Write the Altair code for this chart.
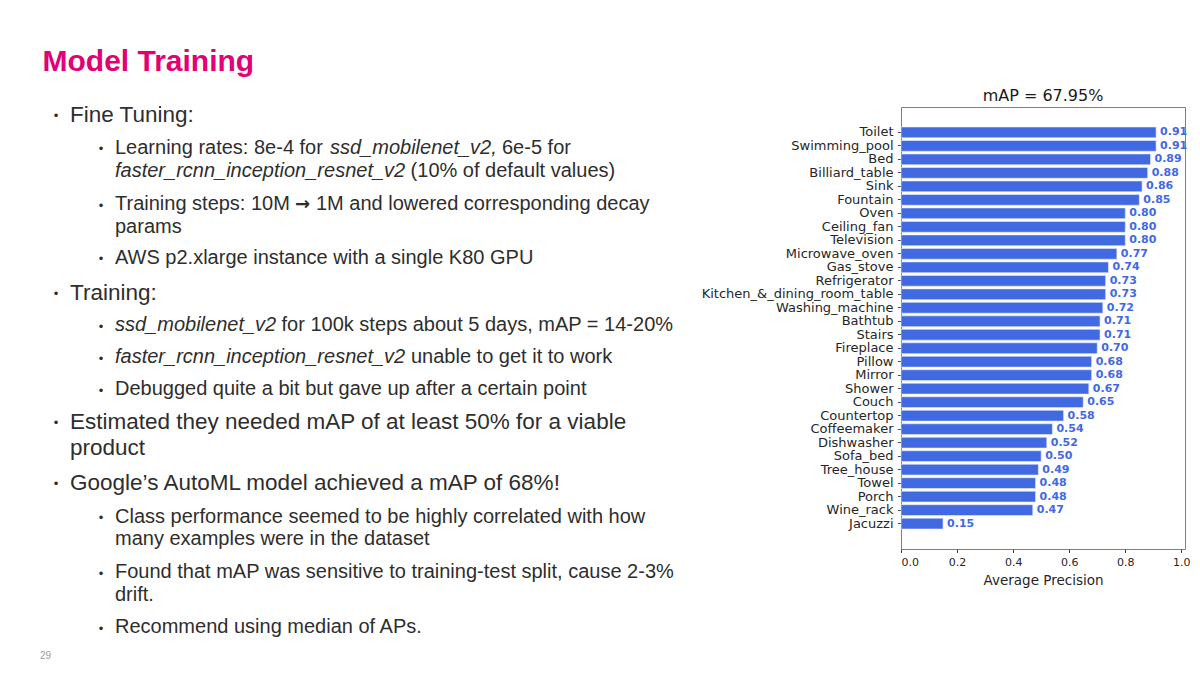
import altair as alt
import pandas as pd

# ---------------- chart data ----------------
CLASSES = [
    "Toilet", "Swimming_pool", "Bed", "Billiard_table", "Sink", "Fountain",
    "Oven", "Ceiling_fan", "Television", "Microwave_oven", "Gas_stove",
    "Refrigerator", "Kitchen_&_dining_room_table", "Washing_machine", "Bathtub",
    "Stairs", "Fireplace", "Pillow", "Mirror", "Shower", "Couch", "Countertop",
    "Coffeemaker", "Dishwasher", "Sofa_bed", "Tree_house", "Towel", "Porch",
    "Wine_rack", "Jacuzzi",
]
AP = [
    0.91, 0.91, 0.89, 0.88, 0.86, 0.85,
    0.80, 0.80, 0.80, 0.77, 0.74,
    0.73, 0.73, 0.72, 0.71,
    0.71, 0.70, 0.68, 0.68, 0.67, 0.65, 0.58,
    0.54, 0.52, 0.50, 0.49, 0.48, 0.48,
    0.47, 0.15,
]
X_TICKS = [0.0, 0.2, 0.4, 0.6, 0.8, 1.0]
CHART_TITLE = "mAP = 67.95%"
X_TITLE = "Average Precision"

# ---------------- slide text ----------------
SLIDE_TITLE = "Model Training"
PAGE_NUMBER = "29"
# (kind, [(text, style), ...]) per line; kind: b=bullet/c=continuation, 1/2=level
# style: "n" upright, "i" italic, "a" arrow glyph
LINES = [
    ("b1", [("Fine Tuning:", "n")]),
    ("b2", [("Learning rates: 8e-4 for", "n"), ("ssd_mobilenet_v2,", "i"), ("6e-5 for", "n")]),
    ("c2", [("faster_rcnn_inception_resnet_v2", "i"), ("(10% of default values)", "n")]),
    ("b2", [("Training steps: 10M", "n"), ("\u2192", "a"), ("1M and lowered corresponding decay", "n")]),
    ("c2", [("params", "n")]),
    ("b2", [("AWS p2.xlarge instance with a single K80 GPU", "n")]),
    ("b1", [("Training:", "n")]),
    ("b2", [("ssd_mobilenet_v2", "i"), ("for 100k steps about 5 days, mAP = 14-20%", "n")]),
    ("b2", [("faster_rcnn_inception_resnet_v2", "i"), ("unable to get it to work", "n")]),
    ("b2", [("Debugged quite a bit but gave up after a certain point", "n")]),
    ("b1", [("Estimated they needed mAP of at least 50% for a viable", "n")]),
    ("c1", [("product", "n")]),
    ("b1", [("Google\u2019s AutoML model achieved a mAP of 68%!", "n")]),
    ("b2", [("Class performance seemed to be highly correlated with how", "n")]),
    ("c2", [("many examples were in the dataset", "n")]),
    ("b2", [("Found that mAP was sensitive to training-test split, cause 2-3%", "n")]),
    ("c2", [("drift.", "n")]),
    ("b2", [("Recommend using median of APs.", "n")]),
]

# ---------------- layout (page pixels) ----------------
OX, OY = 901, 107            # plot-area origin on the page
PW, PH = 284, 442            # plot-area size
BAND_RANGE = [20, 422]       # y band range inside the plot (matplotlib margins)
BASELINES = [122, 153.5, 177, 210, 233, 263.5, 300, 331, 363, 395,
             429, 455, 490, 522.7, 545, 578.3, 600.7, 633.3]
# x positions of segments when a line mixes styles (page px)
SEG_X = {1: [115, 330, 502], 2: [115, 410.6], 3: [115, 295, 316],
         7: [115, 281.5], 8: [115, 411]}
SANS = "Liberation Sans, Arial, Helvetica, sans-serif"
MPL = "DejaVu Sans"
INK = "#2e2e2e"
MAGENTA = "#E20074"
BLUE = "#4169E1"

df = pd.DataFrame({"cls": CLASSES, "ap": AP})


def page_text(text, px, py, size, color=INK, weight="normal", style="normal",
              baseline="alphabetic", font=SANS, align="left"):
    return alt.Chart(alt.Data(values=[{}])).mark_text(
        text=text, align=align, baseline=baseline, fontSize=size, font=font,
        fontWeight=weight, fontStyle=style, color=color,
    ).encode(x=alt.value(px - OX), y=alt.value(py - OY))


layers = []
layers.append(page_text(SLIDE_TITLE, 42.5, 71, 30, color=MAGENTA, weight="bold"))
layers.append(page_text(PAGE_NUMBER, 40, 659, 10, color="#9a9a9a"))
# chart title, centred over the plot area
layers.append(page_text(CHART_TITLE, OX + PW / 2, 101, 16, color="#1a1a1a",
                        font=MPL, align="center"))

for i, (kind, segs) in enumerate(LINES):
    base_y = BASELINES[i]
    level = kind[1]
    x0 = 70 if level == "1" else 115
    size = 22.5 if level == "1" else 20
    if kind[0] == "b":
        bx = 56 if level == "1" else 101
        by = base_y - (6.5 if level == "1" else 4.5)
        layers.append(page_text("\u2022", bx, by, 13, baseline="middle", align="center"))
    xs = SEG_X.get(i, [x0])
    for (txt, st), sx in zip(segs, xs):
        if st == "a":
            layers.append(page_text(txt, sx, base_y, 18, font=MPL, weight="bold"))
        else:
            layers.append(page_text(txt, sx, base_y, size,
                                    style="italic" if st == "i" else "normal"))

# ---------------- bar chart ----------------
y_enc = alt.Y(
    "cls:N", sort=CLASSES, title=None,
    scale=alt.Scale(paddingInner=0.2, paddingOuter=0, range=BAND_RANGE),
    axis=alt.Axis(labelFont=MPL, labelFontSize=13, labelColor="#262626",
                  tickSize=3.5, tickColor="#444", labelPadding=4.5,
                  labelLimit=0, domain=False, grid=False),
)
x_enc = alt.X(
    "ap:Q", title=X_TITLE,
    scale=alt.Scale(domain=[0, 1.013], nice=False, zero=True),
    axis=alt.Axis(values=X_TICKS, format=".1f", labelFont=MPL, labelFontSize=11,
                  labelColor="#262626", tickSize=3.5, tickColor="#444",
                  labelPadding=3.5, domain=False, grid=False,
                  titleFont=MPL, titleFontSize=13.5, titleFontWeight="normal",
                  titleColor="#262626", titlePadding=6.5),
)

base = alt.Chart(df).encode(y=y_enc)
bars = base.mark_bar(color=BLUE, stroke="#e8ecfb", strokeWidth=0.6).encode(x=x_enc)
vals = base.mark_text(align="left", baseline="middle", dx=4, font=MPL,
                      fontWeight="bold", fontSize=11, color=BLUE).encode(
    x=x_enc, text=alt.Text("ap:Q", format=".2f"))

chart = alt.layer(bars, vals, *layers).properties(
    width=PW, height=PH,
    autosize=alt.AutoSizeParams(type="none"),
    padding={"left": OX - 8, "top": OY - 8, "right": 1184 - (OX - 8) - PW,
             "bottom": 659 - (OY - 8) - PH},
    background="white",
).configure_view(stroke="#808080", strokeWidth=1)

chart.save("out.html", embed_options={"renderer": "svg", "actions": False})
